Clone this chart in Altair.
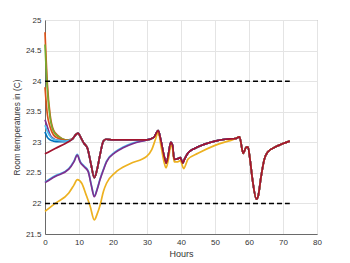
import altair as alt
import pandas as pd

# Shared trajectory that all runs converge to (hours, temperature)
main_x = [8, 9, 9.7, 10.5, 11.5, 12.5, 13.5, 14.5, 15.3, 16.2, 17.2, 18, 20, 25, 30, 32, 33.3, 34, 35, 35.7,
          36.3, 37, 37.5, 38, 39, 39.8, 40.5, 41, 42, 44, 47, 50, 53, 56, 57.2, 58.3, 59.2, 59.7, 60.3, 61,
          62.2, 62.7, 63.5, 64.5, 65.5, 68, 72]
main_y = [23.05, 23.12, 23.15, 23.08, 22.98, 22.9, 22.65, 22.42, 22.55, 22.8, 23.02, 23.05, 23.04, 23.04, 23.04,
          23.08, 23.19, 23.05, 22.78, 22.66, 22.8, 23.0, 22.95, 22.72, 22.73, 22.75, 22.66, 22.72, 22.82, 22.9,
          22.97, 23.02, 23.05, 23.06, 23.09, 22.82, 22.92, 22.92, 22.72, 22.4, 22.07, 22.12, 22.42, 22.72, 22.84,
          22.93, 23.02]

# Early parts of the runs starting above the comfort band (0..6 h)
early_x = [0, 0.7, 1.5, 2.5, 4, 6]
orange_early = [24.8, 23.95, 23.45, 23.2, 23.1, 23.04]
green_early = [24.6, 23.85, 23.4, 23.18, 23.09, 23.04]
orange2_early = [23.9, 23.45, 23.25, 23.12, 23.06, 23.03]
purple_early = [23.37, 23.25, 23.12, 23.06, 23.03, 23.02]
lblue_early = [23.28, 23.18, 23.1, 23.05, 23.03, 23.02]
blue_early = [23.17, 23.08, 23.04, 23.02, 23.01, 23.01]

# Dark red run starting at 22.8
dred_x = [0, 3, 6, 7.5]
dred_y = [22.81, 22.9, 22.98, 23.03]

# Blue / purple run starting at 22.35
low_x = [0, 3, 7, 8.5, 9.5, 10.3, 11.5, 12.7, 13.6, 14.5, 15.3, 16.2, 17.2, 18.1, 20.6, 23, 26]
low_y = [22.34, 22.44, 22.56, 22.68, 22.79, 22.68, 22.6, 22.52, 22.3, 22.11, 22.22, 22.39, 22.55, 22.68, 22.83,
         22.91, 22.98]
low_join = 28.7

# Yellow run starting at 21.87
yel_x = [0, 3, 7, 8.5, 9.5, 10.8, 12.1, 13.3, 14.5, 15.3, 16.2, 17.2, 18.1, 20.6, 25, 29.9, 31.4, 32.5, 33.3,
         34, 35, 35.6, 36.3, 37, 37.5, 38, 39, 39.8, 40.8, 41.5, 42, 45, 50]
yel_y = [21.87, 22.0, 22.17, 22.3, 22.39, 22.33, 22.14, 21.95, 21.73, 21.82, 21.97, 22.2, 22.33, 22.5, 22.65,
         22.77, 22.88, 23.05, 23.17, 22.98, 22.68, 22.58, 22.72, 22.95, 22.9, 22.68, 22.68, 22.7, 22.57, 22.65,
         22.72, 22.82, 22.95]
yel_join = 53

# Comfort bounds
bound_y = [24, 22]
bound_x0 = 0
bound_x1 = 72

x_ticks = [0, 10, 20, 30, 40, 50, 60, 70, 80]
y_ticks = [21.5, 22, 22.5, 23, 23.5, 24, 24.5, 25]


def series(xs, ys, join_after):
    px = list(xs) + [x for x in main_x if x > join_after]
    py = list(ys) + [y for x, y in zip(main_x, main_y) if x > join_after]
    return pd.DataFrame({"h": px, "t": py, "i": range(len(px))})


x_scale = alt.Scale(domain=[0, 80], nice=False)
y_scale = alt.Scale(domain=[21.5, 25], nice=False, zero=False)
x_axis = alt.Axis(values=x_ticks, title="Hours", labelPadding=4, titlePadding=3, ticks=False,
                  labelFlush=False, format="~f", titleFontSize=9)
y_axis = alt.Axis(values=y_ticks, title="Room temperatures in (C)", labelPadding=4, titlePadding=4, ticks=False,
                  labelFlush=False, format=".1~f", titleFontSize=8.3)


def line(df, color):
    return alt.Chart(df).mark_line(color=color, strokeWidth=1.7, interpolate="monotone").encode(
        x=alt.X("h:Q", scale=x_scale, axis=x_axis),
        y=alt.Y("t:Q", scale=y_scale, axis=y_axis),
        order="i:Q",
    )


runs = [
    (series(early_x, blue_early, 6), "#0072BD"),
    (series(early_x, orange_early, 6), "#D95319"),
    (series(early_x, green_early, 6), "#77AC30"),
    (series(early_x, orange2_early, 6), "#D95319"),
    (series(early_x, purple_early, 6), "#7E2F8E"),
    (series(early_x, lblue_early, 6), "#4DBEEE"),
    (series(low_x, [v + 0.012 for v in low_y], low_join), "#4DBEEE"),
    (series(low_x, low_y, low_join), "#7E2F8E"),
    (series(yel_x, yel_y, yel_join), "#EDB120"),
    (series(dred_x, dred_y, 7.5), "#A2142F"),
]

layers = [line(df, c) for df, c in runs]

bounds = pd.DataFrame({"y": bound_y, "x0": [bound_x0] * 2, "x1": [bound_x1] * 2})
rules = alt.Chart(bounds).mark_rule(color="black", strokeWidth=1.5, strokeDash=[5, 3]).encode(
    x=alt.X("x0:Q", scale=x_scale, axis=x_axis),
    x2="x1:Q",
    y=alt.Y("y:Q", scale=y_scale, axis=y_axis),
)

chart = alt.layer(*layers, rules).properties(
    width=272, height=214,
    autosize=alt.AutoSizeParams(type="none"),
    padding={"left": 37, "top": 12, "right": 25, "bottom": 30},
    background="white",
).configure_view(
    stroke="#8a8a8a", strokeWidth=1
).configure_axis(
    grid=True, gridColor="#e4e4e4", gridWidth=1,
    domainColor="#6a6a6a", domainWidth=1,
    labelFont="Liberation Sans", labelFontSize=8, labelColor="#333333",
    titleFont="Liberation Sans", titleColor="#333333", titleFontWeight="normal",
)

chart.save("out.html", embed_options={"renderer": "svg", "actions": False})
